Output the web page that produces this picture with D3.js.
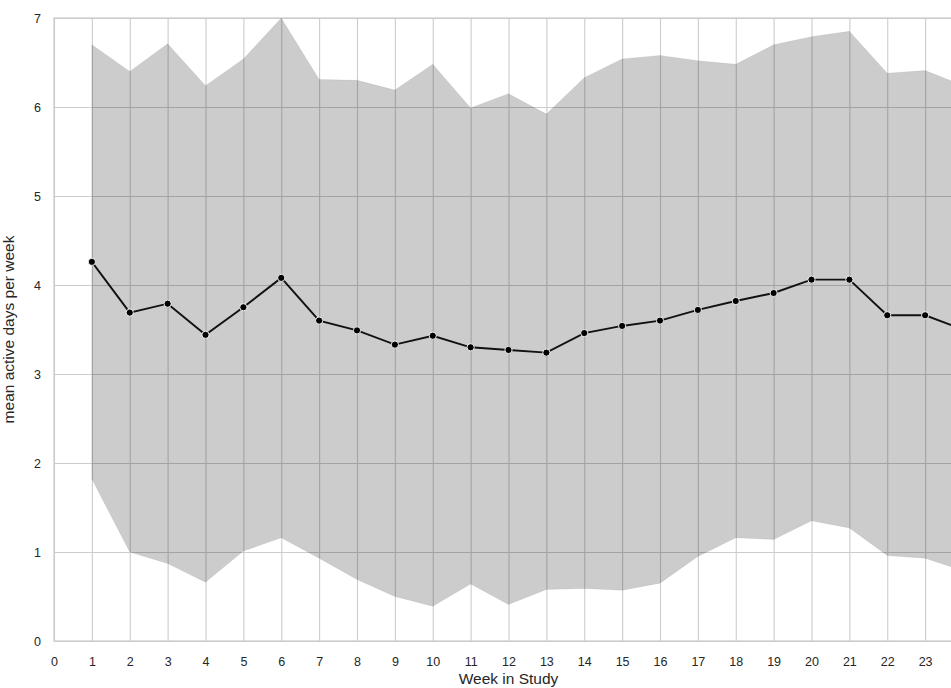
<!DOCTYPE html>
<html>
<head>
<meta charset="utf-8">
<script src="https://cdn.jsdelivr.net/npm/d3@7"></script>
<style>
  body { margin: 0; background: #fff; }
  svg { display: block; font-family: "Liberation Sans", Arial, sans-serif; }
</style>
</head>
<body>
<div class="chart"></div>
<script>
// week number, mean active days, and the shaded band (mean +/- sd)
const weeks = [1, 2, 3, 4, 5, 6, 7, 8, 9, 10, 11, 12, 13, 14, 15, 16, 17, 18, 19, 20, 21, 22, 23, 24];
const meanDays = [4.26, 3.69, 3.79, 3.44, 3.75, 4.08, 3.60, 3.49, 3.33, 3.43, 3.30, 3.27, 3.24, 3.46, 3.54, 3.60, 3.72, 3.82, 3.91, 4.06, 4.06, 3.66, 3.66, 3.50];
const upperBand = [6.70, 6.40, 6.71, 6.24, 6.54, 7.00, 6.31, 6.30, 6.19, 6.48, 5.99, 6.15, 5.92, 6.33, 6.54, 6.58, 6.52, 6.48, 6.70, 6.79, 6.85, 6.38, 6.41, 6.24];
const lowerBand = [1.82, 1.00, 0.87, 0.66, 1.01, 1.16, 0.93, 0.69, 0.50, 0.39, 0.64, 0.41, 0.58, 0.59, 0.57, 0.65, 0.95, 1.16, 1.14, 1.35, 1.27, 0.96, 0.93, 0.79];

const xTicks = d3.range(0, 24);
const yTicks = [0, 1, 2, 3, 4, 5, 6, 7];

const width = 951;
const height = 688;
const margin = { top: 18, left: 54, bottom: 47 };
const plotRight = 963; // axes run a little past the window edge

const data = weeks.map((w, i) => ({ week: w, mean: meanDays[i], hi: upperBand[i], lo: lowerBand[i] }));

const svg = d3.select(".chart")
    .append("svg")
    .attr("width", width)
    .attr("height", height);

const x = d3.scaleLinear()
    .domain([0, 24])
    .range([margin.left, plotRight]);

const y = d3.scaleLinear()
    .domain([0, 7])
    .range([height - margin.bottom, margin.top]);

// grid lines (drawn first so the band darkens them)
const xAxis = svg.append("g")
    .attr("transform", "translate(0," + (height - margin.bottom) + ")")
    .call(d3.axisBottom(x).tickValues(xTicks).tickFormat(d3.format("d"))
        .tickSize(-(y(0) - y(7))).tickPadding(16));

// vertical grid line at 24 (no label, past the edge)
svg.append("line")
    .attr("x1", x(24)).attr("x2", x(24))
    .attr("y1", y(0)).attr("y2", y(7))
    .attr("stroke", "#cccccc");

const yAxis = svg.append("g")
    .attr("transform", "translate(" + margin.left + ",0)")
    .call(d3.axisLeft(y).tickValues(yTicks).tickFormat(d3.format("d"))
        .tickSize(-(plotRight - margin.left)).tickPadding(13));

[xAxis, yAxis].forEach(function(ax) {
    ax.select(".domain").remove();
    ax.attr("font-family", null).attr("font-size", null);
    ax.selectAll(".tick line").attr("stroke", "#cccccc").attr("stroke-width", 1.1);
    ax.selectAll(".tick text")
        .attr("fill", "#262626")
        .style("font-family", "'Liberation Sans', Arial, sans-serif")
        .style("font-size", "12.5px");
});

// spines
svg.append("rect")
    .attr("x", margin.left)
    .attr("y", margin.top)
    .attr("width", plotRight - margin.left)
    .attr("height", y(0) - y(7))
    .attr("fill", "none")
    .attr("stroke", "#cccccc")
    .attr("stroke-width", 1.25);

// error band
const band = d3.area()
    .x(d => x(d.week))
    .y0(d => y(d.lo))
    .y1(d => y(d.hi));

svg.append("path")
    .datum(data)
    .attr("d", band)
    .attr("fill", "#000")
    .attr("fill-opacity", 0.2)
    .attr("stroke", "#000")
    .attr("stroke-opacity", 0.06)
    .attr("stroke-width", 1);

// mean line
const line = d3.line()
    .x(d => x(d.week))
    .y(d => y(d.mean));

svg.append("path")
    .datum(data)
    .attr("d", line)
    .attr("fill", "none")
    .attr("stroke", "#111")
    .attr("stroke-width", 1.9);

svg.selectAll(".dot")
    .data(data)
    .enter()
    .append("circle")
    .attr("class", "dot")
    .attr("cx", d => x(d.week))
    .attr("cy", d => y(d.mean))
    .attr("r", 3.6)
    .attr("fill", "#000")
    .attr("stroke", "#fff")
    .attr("stroke-width", 0.9);

// axis labels
svg.append("text")
    .attr("x", (margin.left + plotRight) / 2)
    .attr("y", 684)
    .attr("text-anchor", "middle")
    .attr("fill", "#262626")
    .style("font-size", "15.5px")
    .text("Week in Study");

svg.append("text")
    .attr("transform", "translate(14," + ((y(0) + y(7)) / 2) + ") rotate(-90)")
    .attr("text-anchor", "middle")
    .attr("fill", "#262626")
    .style("font-size", "15.5px")
    .text("mean active days per week");
</script>
</body>
</html>
